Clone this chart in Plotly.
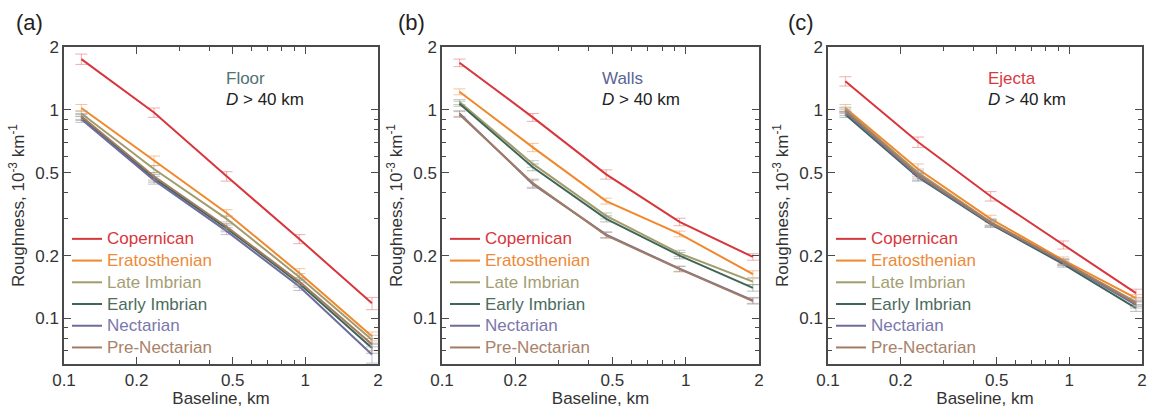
import plotly.graph_objects as go

baseline = [0.118, 0.236, 0.472, 0.944, 1.888]
series_names = ["Copernican", "Eratosthenian", "Late Imbrian", "Early Imbrian", "Nectarian", "Pre-Nectarian"]

floor_vals = [
    [1.75, 0.97, 0.48, 0.24, 0.118],
    [1.02, 0.57, 0.32, 0.165, 0.082],
    [0.96, 0.52, 0.30, 0.158, 0.079],
    [0.92, 0.47, 0.27, 0.147, 0.072],
    [0.90, 0.46, 0.262, 0.142, 0.067],
    [0.93, 0.48, 0.275, 0.150, 0.075],
]
walls_vals = [
    [1.68, 0.92, 0.49, 0.29, 0.197],
    [1.22, 0.66, 0.365, 0.254, 0.163],
    [1.09, 0.55, 0.31, 0.205, 0.150],
    [1.07, 0.53, 0.30, 0.200, 0.140],
    [0.96, 0.44, 0.252, 0.173, 0.122],
    [0.95, 0.445, 0.25, 0.172, 0.121],
]
ejecta_vals = [
    [1.37, 0.70, 0.385, 0.225, 0.132],
    [1.02, 0.52, 0.30, 0.190, 0.125],
    [1.00, 0.50, 0.29, 0.186, 0.120],
    [0.95, 0.475, 0.283, 0.182, 0.112],
    [0.97, 0.48, 0.285, 0.185, 0.116],
    [0.99, 0.49, 0.288, 0.187, 0.118],
]
floor_err = [
    [0.10, 0.05, 0.025, 0.012, 0.008],
    [0.04, 0.03, 0.012, 0.008, 0.004],
    [0.03, 0.02, 0.010, 0.006, 0.004],
    [0.03, 0.02, 0.010, 0.006, 0.004],
    [0.03, 0.02, 0.010, 0.006, 0.006],
    [0.03, 0.02, 0.010, 0.006, 0.005],
]
walls_err = [
    [0.07, 0.04, 0.025, 0.012, 0.007],
    [0.04, 0.03, 0.012, 0.008, 0.006],
    [0.03, 0.02, 0.010, 0.007, 0.005],
    [0.03, 0.02, 0.010, 0.007, 0.005],
    [0.03, 0.02, 0.008, 0.005, 0.004],
    [0.03, 0.02, 0.008, 0.005, 0.004],
]
ejecta_err = [
    [0.07, 0.04, 0.02, 0.010, 0.006],
    [0.04, 0.03, 0.012, 0.007, 0.005],
    [0.03, 0.02, 0.010, 0.006, 0.004],
    [0.03, 0.02, 0.010, 0.006, 0.004],
    [0.03, 0.02, 0.010, 0.006, 0.004],
    [0.03, 0.02, 0.010, 0.006, 0.004],
]

panel_labels = ["(a)", "(b)", "(c)"]
panel_titles = ["Floor", "Walls", "Ejecta"]
panel_title_colors = ["#4f7272", "#5a6496", "#d83a40"]
x_ticks = [0.1, 0.2, 0.5, 1, 2]
x_minor = [0.3, 0.4, 0.6, 0.7, 0.8, 0.9]
y_ticks = [0.1, 0.2, 0.5, 1, 2]
y_minor = [0.07, 0.08, 0.09, 0.3, 0.4, 0.6, 0.7, 0.8, 0.9]

line_colors = ["#d8363c", "#f0882c", "#a29c6c", "#3e6656", "#6e6c9c", "#a27c62"]
text_colors = ["#d8363c", "#ec8a3a", "#a49e74", "#4c6c5e", "#7a78aa", "#a8826a"]
err_colors = ["rgba(230,120,120,0.6)", "rgba(240,160,100,0.6)", "rgba(170,170,150,0.6)",
              "rgba(130,150,140,0.6)", "rgba(150,150,180,0.6)", "rgba(180,150,130,0.6)"]

W, H = 1151, 408
px_left = [64, 442, 828]
px_right = [378, 759, 1142]
py_top, py_bot = 47, 364
label_px = [14, 396, 786]

fig = go.Figure()
FONT = "Liberation Sans, Arial, sans-serif"
frame = "#4a4a4a"

all_vals = [floor_vals, walls_vals, ejecta_vals]
all_err = [floor_err, walls_err, ejecta_err]

annotations = []
for p in range(3):
    sfx = "" if p == 0 else str(p + 1)
    legend_id = "legend" if p == 0 else "legend" + str(p + 1)
    for i, name in enumerate(series_names):
        fig.add_trace(go.Scatter(
            x=baseline, y=all_vals[p][i], mode="lines",
            name='<span style="color:%s;font-size:17px">%s</span>' % (text_colors[i], name),
            line=dict(color=line_colors[i], width=2),
            error_y=dict(type="data", array=all_err[p][i], color=err_colors[i], thickness=1, width=6),
            xaxis="x" + sfx, yaxis="y" + sfx, legend=legend_id,
        ))
    d0 = px_left[p] / W
    d1 = px_right[p] / W
    axcommon = dict(type="log", showline=True, linecolor=frame, linewidth=1.5, mirror="ticks",
                    ticks="inside", ticklen=7, tickwidth=1.2, tickcolor=frame, showgrid=False,
                    zeroline=False, tickfont=dict(size=17, color="#333", family=FONT),
                    tickmode="array", automargin=False)
    fig.layout["xaxis" + sfx] = dict(
        axcommon, domain=[d0, d1], range=[-1, 0.30103], tickvals=x_ticks,
        ticktext=[str(v) for v in x_ticks], anchor="y" + sfx,
        minor=dict(tickmode="array", tickvals=x_minor, ticks="inside", ticklen=4, tickcolor=frame),
        title=dict(text="Baseline, km", font=dict(size=17, color="#333", family=FONT), standoff=7),
    )
    fig.layout["yaxis" + sfx] = dict(
        axcommon, domain=[1 - py_bot / H, 1 - py_top / H], range=[-1.219, 0.30103], tickvals=y_ticks,
        ticktext=[str(v) for v in y_ticks], anchor="x" + sfx,
        minor=dict(tickmode="array", tickvals=y_minor, ticks="inside", ticklen=4, tickcolor=frame),
        title=dict(text="Roughness, 10<sup>-3</sup> km<sup>-1</sup>", font=dict(size=17, color="#333", family=FONT), standoff=6),
    )
    fig.layout[legend_id] = dict(
        x=(px_left[p] + 3) / W, y=1 - 223 / H, xanchor="left", yanchor="top",
        bgcolor="rgba(0,0,0,0)", font=dict(size=14.4, family=FONT), tracegroupgap=0,
        itemclick=False, itemdoubleclick=False,
    )
    annotations.append(dict(text=panel_labels[p], x=label_px[p] / W, y=1 - 22 / H,
                            xref="paper", yref="paper", xanchor="left", yanchor="middle", showarrow=False,
                            font=dict(size=22, color="#222", family=FONT)))
    tx = (px_left[p] + [160, 158, 158][p]) / W
    annotations.append(dict(text=panel_titles[p], x=tx, y=1 - 79 / H, xref="paper", yref="paper",
                            xanchor="left", yanchor="middle", showarrow=False,
                            font=dict(size=17, color=panel_title_colors[p], family=FONT)))
    annotations.append(dict(text="<i>D</i> > 40 km", x=tx, y=1 - 99 / H, xref="paper", yref="paper",
                            xanchor="left", yanchor="middle", showarrow=False,
                            font=dict(size=17, color="#222", family=FONT)))

fig.update_layout(
    width=W, height=H, margin=dict(l=0, r=0, t=0, b=0, autoexpand=False),
    paper_bgcolor="white", plot_bgcolor="white",
    annotations=annotations, showlegend=True,
    font=dict(family=FONT),
)
fig.write_html("out.html", post_script="document.body.style.margin='0';document.body.style.overflow='hidden';")
